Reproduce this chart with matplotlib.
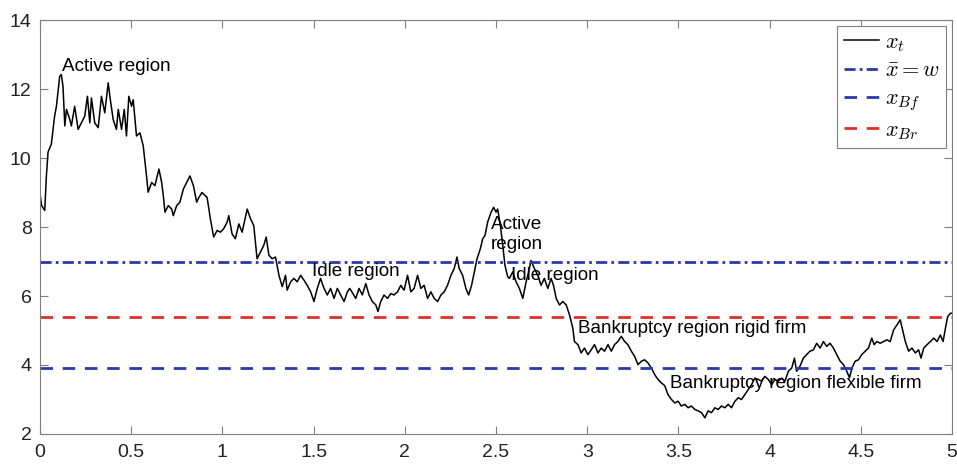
import matplotlib
matplotlib.use("Agg")
import matplotlib.pyplot as plt

t = [0.000, 0.009, 0.026, 0.035, 0.044, 0.062, 0.080, 0.090, 0.108, 0.117,
     0.126, 0.136, 0.145, 0.163, 0.172, 0.190, 0.209, 0.227, 0.245, 0.260,
     0.273, 0.282, 0.300, 0.319, 0.337, 0.355, 0.374, 0.383, 0.401, 0.419,
     0.429, 0.447, 0.462, 0.474, 0.487, 0.502, 0.511, 0.529, 0.548, 0.566,
     0.584, 0.593, 0.612, 0.630, 0.652, 0.667, 0.676, 0.685, 0.703, 0.722,
     0.731, 0.749, 0.767, 0.786, 0.804, 0.822, 0.841, 0.859, 0.870, 0.888,
     0.916, 0.934, 0.952, 0.971, 0.989, 1.007, 1.026, 1.035, 1.053, 1.071,
     1.090, 1.108, 1.136, 1.154, 1.172, 1.190, 1.209, 1.227, 1.240, 1.255,
     1.273, 1.291, 1.310, 1.328, 1.346, 1.355, 1.374, 1.392, 1.410, 1.429,
     1.447, 1.465, 1.484, 1.502, 1.520, 1.538, 1.557, 1.575, 1.593, 1.612,
     1.630, 1.648, 1.667, 1.685, 1.698, 1.712, 1.731, 1.749, 1.767, 1.786,
     1.804, 1.822, 1.841, 1.853, 1.868, 1.886, 1.905, 1.923, 1.941, 1.960,
     1.978, 1.996, 2.015, 2.033, 2.051, 2.070, 2.088, 2.106, 2.125, 2.143,
     2.161, 2.180, 2.198, 2.216, 2.234, 2.253, 2.271, 2.286, 2.298, 2.317,
     2.335, 2.350, 2.366, 2.381, 2.396, 2.414, 2.427, 2.440, 2.454, 2.473,
     2.487, 2.500, 2.509, 2.524, 2.537, 2.549, 2.564, 2.573, 2.592, 2.610,
     2.628, 2.647, 2.665, 2.679, 2.692, 2.710, 2.729, 2.747, 2.765, 2.784,
     2.802, 2.815, 2.830, 2.848, 2.866, 2.885, 2.903, 2.921, 2.930, 2.949,
     2.967, 2.985, 3.004, 3.022, 3.040, 3.059, 3.077, 3.095, 3.114, 3.132,
     3.150, 3.168, 3.187, 3.205, 3.223, 3.242, 3.260, 3.278, 3.297, 3.315,
     3.333, 3.352, 3.370, 3.388, 3.407, 3.425, 3.443, 3.462, 3.480, 3.498,
     3.516, 3.535, 3.553, 3.571, 3.590, 3.608, 3.626, 3.645, 3.663, 3.681,
     3.700, 3.718, 3.736, 3.755, 3.773, 3.791, 3.810, 3.828, 3.846, 3.864,
     3.883, 3.901, 3.919, 3.938, 3.956, 3.974, 3.993, 4.011, 4.029, 4.048,
     4.066, 4.084, 4.103, 4.121, 4.136, 4.148, 4.166, 4.185, 4.203, 4.221,
     4.240, 4.258, 4.277, 4.295, 4.313, 4.331, 4.350, 4.368, 4.387, 4.405,
     4.423, 4.438, 4.451, 4.469, 4.487, 4.505, 4.524, 4.542, 4.560, 4.573,
     4.588, 4.606, 4.625, 4.643, 4.661, 4.680, 4.698, 4.716, 4.731, 4.744,
     4.762, 4.780, 4.799, 4.817, 4.830, 4.845, 4.863, 4.881, 4.900, 4.918,
     4.936, 4.951, 4.964, 4.976, 4.991, 5.000]
x = [8.96, 8.62, 8.48, 9.48, 10.17, 10.40, 11.21, 11.50, 12.37, 12.42,
     12.08, 10.93, 11.41, 11.12, 10.93, 11.50, 10.83, 11.02, 11.21, 11.79,
     11.02, 11.74, 11.02, 10.88, 11.79, 11.31, 12.18, 11.79, 11.12, 10.83,
     11.41, 10.83, 11.41, 10.64, 11.79, 11.50, 11.69, 10.64, 10.73, 10.35,
     9.48, 9.01, 9.29, 9.20, 9.68, 9.29, 8.91, 8.43, 8.62, 8.52,
     8.33, 8.62, 8.72, 9.10, 9.29, 9.48, 9.20, 8.72, 8.85, 9.00,
     8.86, 8.24, 7.71, 7.90, 7.85, 7.95, 8.14, 8.33, 7.80, 7.66,
     8.09, 7.85, 8.52, 8.24, 8.04, 7.08, 7.28, 7.47, 7.71, 7.18,
     7.08, 7.13, 6.60, 6.27, 6.60, 6.17, 6.41, 6.51, 6.41, 6.60,
     6.46, 6.31, 6.12, 5.84, 6.22, 6.51, 6.22, 6.03, 6.22, 5.93,
     6.22, 6.03, 5.84, 6.12, 6.22, 6.10, 5.93, 6.22, 6.03, 6.36,
     6.03, 5.84, 5.74, 5.55, 5.84, 6.03, 5.93, 6.07, 6.03, 6.12,
     6.31, 6.17, 6.60, 6.12, 6.22, 6.60, 6.22, 6.31, 5.93, 6.12,
     5.93, 5.84, 6.03, 6.12, 6.31, 6.60, 6.80, 7.13, 6.80, 6.60,
     6.22, 6.03, 6.31, 6.70, 7.08, 7.37, 7.66, 7.76, 8.14, 8.43,
     8.57, 8.43, 8.52, 8.04, 7.47, 6.89, 6.56, 6.51, 6.70, 6.41,
     6.22, 5.93, 6.41, 6.70, 7.03, 6.80, 6.60, 6.31, 6.51, 6.22,
     6.51, 6.31, 5.93, 5.74, 5.84, 5.74, 5.45, 5.07, 4.68, 4.59,
     4.35, 4.49, 4.30, 4.44, 4.59, 4.35, 4.49, 4.40, 4.59, 4.40,
     4.59, 4.68, 4.83, 4.68, 4.59, 4.40, 4.25, 4.01, 4.11, 4.15,
     4.06, 3.91, 3.72, 3.58, 3.48, 3.40, 3.14, 3.00, 2.90, 2.95,
     2.81, 2.86, 2.76, 2.81, 2.71, 2.67, 2.62, 2.47, 2.67, 2.62,
     2.76, 2.71, 2.81, 2.76, 2.86, 2.76, 2.95, 3.05, 3.00, 3.14,
     3.29, 3.43, 3.62, 3.58, 3.53, 3.67, 3.58, 3.43, 3.58, 3.53,
     3.62, 3.53, 3.82, 3.91, 4.20, 3.82, 3.96, 4.20, 4.30, 4.40,
     4.44, 4.63, 4.49, 4.68, 4.54, 4.63, 4.49, 4.30, 4.11, 4.01,
     3.82, 3.63, 3.91, 4.11, 4.15, 4.30, 4.40, 4.49, 4.78, 4.59,
     4.68, 4.63, 4.68, 4.73, 4.68, 5.02, 5.16, 5.31, 4.97, 4.68,
     4.40, 4.49, 4.35, 4.44, 4.20, 4.49, 4.59, 4.68, 4.78, 4.68,
     4.87, 4.68, 5.07, 5.40, 5.50, 5.50]

x_bar = 7.0   # \bar{x} = w
x_Bf = 3.9
x_Br = 5.4

labels = ["Active region", "Active\nregion", "Idle region", "Idle region",
          "Bankruptcy region rigid firm", "Bankruptcy region flexible firm"]
label_pos = [(0.12, 12.65), (2.473, 7.78), (1.493, 6.71), (2.582, 6.6),
             (2.949, 5.07), (3.452, 3.45)]

xticks = [0, 0.5, 1, 1.5, 2, 2.5, 3, 3.5, 4, 4.5, 5]
xticklabels = ["0", "0.5", "1", "1.5", "2", "2.5", "3", "3.5", "4", "4.5", "5"]
yticks = [2, 4, 6, 8, 10, 12, 14]

plt.rcParams['font.family'] = ['Liberation Sans', 'DejaVu Sans']
plt.rcParams['mathtext.fontset'] = 'cm'

blue = '#2b38ad'
red = '#e0302a'
gray = '#7f7f7f'

fig = plt.figure(figsize=(9.57, 4.66), dpi=100)
ax = fig.add_axes([0.0418, 0.0687, 0.953, 0.8883])

ax.plot(t, x, color='black', lw=1.1, label=r'$x_t$')
ax.axhline(x_bar, color=blue, lw=2.0, dashes=(4, 1.5, 1, 1.5), label=r'$\bar{x}=w$')
ax.axhline(x_Bf, color=blue, lw=2.0, dashes=(4.5, 3.5), label=r'$x_{Bf}$')
ax.axhline(x_Br, color=red, lw=2.0, dashes=(4.5, 3.5), label=r'$x_{Br}$')

for s, (px, py) in zip(labels, label_pos):
    ax.text(px, py, s, fontsize=13.6, ha='left', va='center', linespacing=1.2)

ax.set_xlim(0, 5)
ax.set_ylim(2, 14)
ax.set_xticks(xticks)
ax.set_xticklabels(xticklabels)
ax.set_yticks(yticks)
ax.tick_params(direction='in', top=True, right=True, length=6, color=gray,
               labelsize=14, labelcolor='#222222')
ax.tick_params(axis='x', pad=7)
ax.tick_params(axis='y', pad=6)
for sp in ax.spines.values():
    sp.set_color(gray)
    sp.set_linewidth(0.8)

leg = ax.legend(loc='upper right', fontsize=16, fancybox=False, framealpha=1,
                edgecolor=gray, handlelength=1.6, handletextpad=0.25,
                labelspacing=0.3, borderaxespad=0.25, borderpad=0.3)
leg.get_frame().set_linewidth(0.8)

fig.savefig('out.png', dpi=100)
